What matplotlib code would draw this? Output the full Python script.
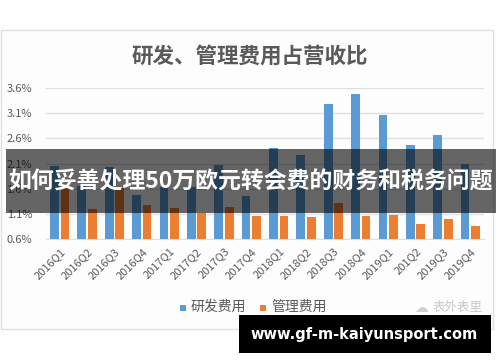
import matplotlib
matplotlib.use("Agg")
import matplotlib.pyplot as plt
from matplotlib.patches import Rectangle
import numpy as np

plt.rcParams['font.family'] = ['Noto Sans CJK SC', 'DejaVu Sans']

categories = ["2016Q1", "2016Q2", "2016Q3", "2016Q4", "2017Q1", "2017Q2", "2017Q3", "2017Q4",
              "2018Q1", "2018Q2", "2018Q3", "2018Q4", "2019Q1", "201Q2", "2019Q3", "2019Q4"]
rd_values = [2.05, 1.65, 2.03, 1.47, 1.64, 1.64, 2.08, 1.45,
             2.40, 2.27, 3.29, 3.49, 3.06, 2.47, 2.66, 2.10]
admin_values = [1.61, 1.20, 1.61, 1.27, 1.21, 1.11, 1.23, 1.06,
                1.06, 1.04, 1.31, 1.06, 1.08, 0.89, 0.99, 0.85]
yticks = [0.6, 1.1, 1.6, 2.1, 2.6, 3.1, 3.6]
series_names = ["研发费用", "管理费用"]
title = "研发、管理费用占营收比"
banner = "如何妥善处理50万欧元转会费的财务和税务问题"
url = "www.gf-m-kaiyunsport.com"
watermark = "表外表里"

W, H = 500, 362
fig = plt.figure(figsize=(W / 100, H / 100), dpi=100)
fig.patch.set_facecolor("white")

def fx(px):
    return px / W

def fy(py):
    return 1 - py / H

# chart frame
fig.patches.append(Rectangle((fx(1), fy(329)), fx(492), (329 - 30) / H, transform=fig.transFigure,
                             facecolor="#fdfdfd", edgecolor="#dde0e6", linewidth=1.0, zorder=-5))

ax = fig.add_axes([fx(46), fy(239), fx(484 - 46), (239 - 88) / H])
ax.set_zorder(1)
ax.set_facecolor("none")
x = np.arange(len(categories))
bw = 0.32
base = 0.6
ax.bar(x - 0.19, np.array(rd_values) - base, bw, bottom=base, color="#5b9bd5", zorder=3)
ax.bar(x + 0.19, np.array(admin_values) - base, bw, bottom=base, color="#ed7d31", zorder=3)
ax.set_xlim(-0.5, len(categories) - 0.5)
ax.set_ylim(0.6, 3.6)
ax.set_yticks(yticks)
ax.set_yticklabels([f"{v:.1f}%" for v in yticks], color="#595959", fontsize=8)
ax.set_xticks(x)
ax.set_xticklabels(categories, rotation=45, ha="right", rotation_mode="anchor",
                   color="#595959", fontsize=8)
ax.tick_params(length=0)
ax.tick_params(axis="y", pad=10)
ax.tick_params(axis="x", pad=5)
ax.grid(axis="y", color="#dcdfe8", linewidth=1.0, zorder=0)
for s in ["top", "right", "left"]:
    ax.spines[s].set_visible(False)
ax.spines["bottom"].set_color("#dcdfe8")

fig.text(fx(250), fy(56), title, ha="center", va="center", fontsize=15.5,
         color="#595959", fontweight="bold")

# legend
fig.patches.append(Rectangle((fx(180), fy(311)), fx(6), 6 / H, transform=fig.transFigure,
                             facecolor="#5b9bd5", edgecolor="none"))
fig.text(fx(191), fy(307), series_names[0], ha="left", va="center", fontsize=10, color="#595959")
fig.patches.append(Rectangle((fx(260), fy(311)), fx(6), 6 / H, transform=fig.transFigure,
                             facecolor="#ed7d31", edgecolor="none"))
fig.text(fx(271), fy(307), series_names[1], ha="left", va="center", fontsize=10, color="#595959")

# watermark
fig.text(fx(483), fy(307), watermark, ha="right", va="center", fontsize=9, color="#c8c8c8")
fig.text(fx(421), fy(308), "☁", ha="center", va="center", fontsize=10, color="#d0d0d0",
         family=["DejaVu Sans"])

# banner
fig.patches.append(Rectangle((fx(6), fy(213)), fx(490), (213 - 149) / H, transform=fig.transFigure,
                             facecolor="black", alpha=0.6, edgecolor="none", zorder=10))
fig.text(fx(251), fy(182), banner, ha="center", va="center", fontsize=16.5, color="white",
         fontweight="bold", zorder=11)

# url band
fig.patches.append(Rectangle((fx(239), fy(353)), fx(252), (353 - 315) / H, transform=fig.transFigure,
                             facecolor="black", edgecolor="none", zorder=10))
fig.text(fx(364), fy(335), url, ha="center", va="center", fontsize=10.5, color="white",
         fontweight="bold", family=["DejaVu Sans"], zorder=11)

fig.savefig("out.png", dpi=100)
